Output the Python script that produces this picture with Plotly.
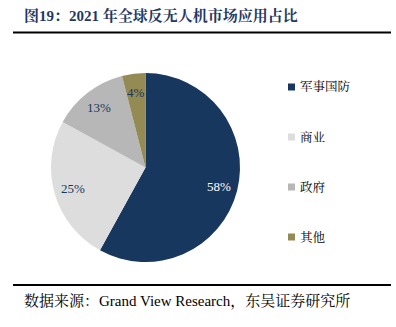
import math
import plotly.graph_objects as go

# Market share of counter-UAV applications, 2021
categories = ["军事国防", "商业", "政府", "其他"]
shares = [58, 25, 13, 4]
slice_colors = ["#17375E", "#DDDDDD", "#B7B7B7", "#948A54"]
label_colors = ["#FFFFFF", "#17375E", "#17375E", "#17375E"]

title_text = "图19：2021 年全球反无人机市场应用占比"
source_text = "数据来源：Grand View Research，东吴证券研究所"

W, H = 396, 327
SERIF = "Liberation Serif, Noto Serif CJK SC, Noto Sans CJK SC, serif"

# pie geometry in pixels
CX, CY, R = 145.5, 167.5, 94.5
LABEL_R = 0.80

fig = go.Figure()
fig.add_trace(go.Pie(
    labels=categories,
    values=shares,
    sort=False,
    direction="clockwise",
    rotation=0,
    marker=dict(colors=slice_colors, line=dict(width=0)),
    textinfo="none",
    domain=dict(x=[(CX - R) / W, (CX + R) / W], y=[1 - (CY + R) / H, 1 - (CY - R) / H]),
    showlegend=False,
    hoverinfo="label+percent",
))

shapes = [
    dict(type="line", xref="paper", yref="paper", x0=13 / W, x1=391 / W,
         y0=1 - 32.5 / H, y1=1 - 32.5 / H, line=dict(color="#000000", width=2)),
    dict(type="line", xref="paper", yref="paper", x0=13 / W, x1=391 / W,
         y0=1 - 285 / H, y1=1 - 285 / H, line=dict(color="#000000", width=2)),
]
annotations = [
    dict(text=f"<b>{title_text}</b>", x=22 / W, y=1 - 16 / H, xref="paper", yref="paper",
         xanchor="left", yanchor="middle", showarrow=False,
         font=dict(family=SERIF, size=15, color="#1F3864")),
    dict(text=source_text, x=22 / W, y=1 - 301 / H, xref="paper", yref="paper",
         xanchor="left", yanchor="middle", showarrow=False,
         font=dict(family=SERIF, size=15, color="#000000")),
]

# Percentage labels placed along each slice's mid-angle
total = sum(shares)
start = 0.0
for v, col in zip(shares, label_colors):
    mid = (start + v / 2) / total * 2 * math.pi
    start += v
    px = CX + LABEL_R * R * math.sin(mid)
    py = CY - LABEL_R * R * math.cos(mid)
    annotations.append(dict(text=f"{v}%", x=px / W, y=1 - py / H, xref="paper", yref="paper",
                            xanchor="center", yanchor="middle", showarrow=False,
                            font=dict(family=SERIF, size=13, color=col)))

# Legend: square swatch plus label for each category
for i, (name, col) in enumerate(zip(categories, slice_colors)):
    yc = 87 + 50 * i
    shapes.append(dict(type="rect", xref="paper", yref="paper",
                       x0=288 / W, x1=295 / W, y0=1 - (yc + 3.5) / H, y1=1 - (yc - 3.5) / H,
                       line=dict(width=0), fillcolor=col))
    annotations.append(dict(text=name, x=298 / W, y=1 - yc / H, xref="paper", yref="paper",
                            xanchor="left", yanchor="middle", showarrow=False,
                            font=dict(family=SERIF, size=12.5, color="#000000")))

fig.update_layout(
    width=W, height=H,
    margin=dict(l=0, r=0, t=0, b=0),
    paper_bgcolor="#FFFFFF",
    plot_bgcolor="#FFFFFF",
    shapes=shapes,
    annotations=annotations,
)

fig.write_html("out.html")
